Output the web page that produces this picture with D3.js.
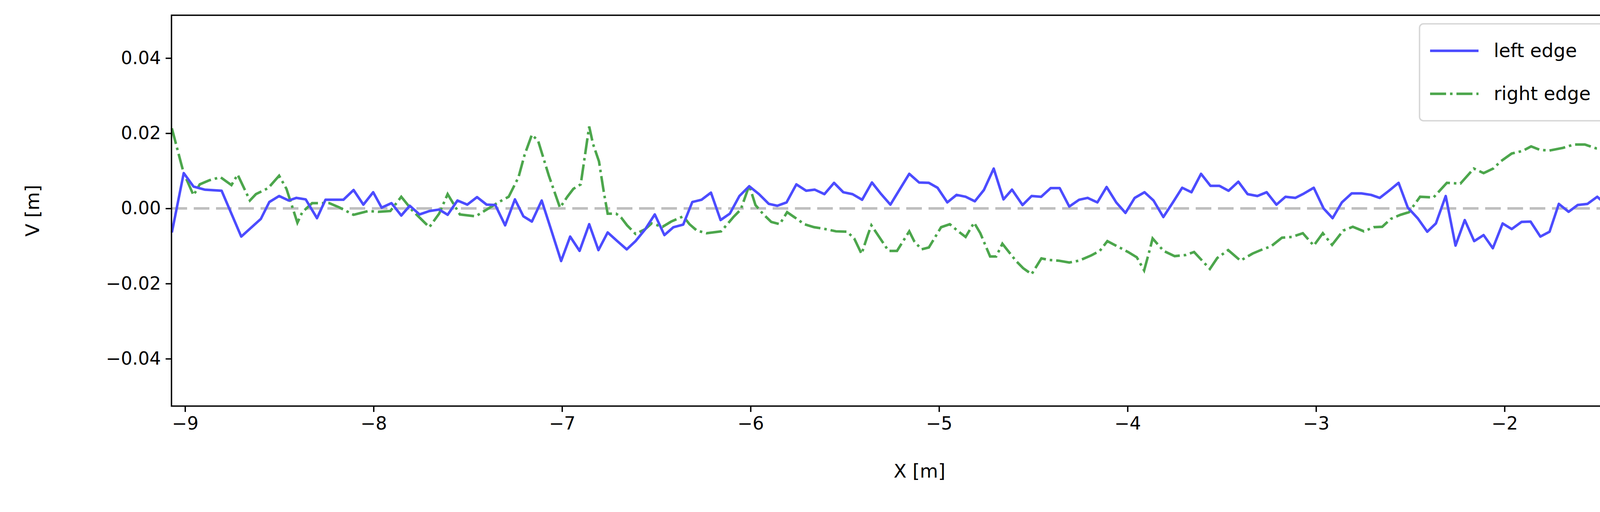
<!DOCTYPE html>
<html>
<head>
<meta charset="utf-8">
<script src="https://cdn.jsdelivr.net/npm/d3@7"></script>
<style>
  html, body { margin: 0; padding: 0; background: #fff; overflow: hidden; }
  svg { display: block; }
  text { font-family: "DejaVu Sans", sans-serif; }
</style>
</head>
<body>
<svg id="chart" width="4323" height="1310" viewBox="0 0 4323 1310"></svg>
<script>
// left edge profile (x in m, v in m)
var leftX = [-9.07,-9.007,-8.955,-8.896,-8.806,-8.702,-8.598,-8.553,-8.501,-8.45,-8.41,-8.36,-8.30,-8.255,-8.16,-8.106,-8.054,-8.002,-7.957,-7.905,-7.853,-7.808,-7.756,-7.704,-7.652,-7.607,-7.555,-7.503,-7.451,-7.40,-7.354,-7.302,-7.25,-7.205,-7.16,-7.108,-7.063,-7.005,-6.957,-6.907,-6.856,-6.807,-6.758,-6.707,-6.657,-6.61,-6.558,-6.508,-6.457,-6.409,-6.357,-6.309,-6.26,-6.21,-6.159,-6.11,-6.059,-6.007,-5.955,-5.903,-5.858,-5.809,-5.757,-5.705,-5.66,-5.608,-5.557,-5.508,-5.459,-5.408,-5.356,-5.307,-5.258,-5.207,-5.158,-5.106,-5.054,-5.008,-4.956,-4.907,-4.859,-4.81,-4.762,-4.71,-4.658,-4.613,-4.557,-4.509,-4.458,-4.408,-4.36,-4.309,-4.257,-4.212,-4.16,-4.111,-4.06,-4.011,-3.962,-3.91,-3.862,-3.81,-3.758,-3.71,-3.661,-3.61,-3.56,-3.512,-3.464,-3.412,-3.363,-3.311,-3.262,-3.21,-3.162,-3.11,-3.07,-3.012,-2.96,-2.912,-2.863,-2.811,-2.76,-2.708,-2.662,-2.613,-2.562,-2.513,-2.461,-2.41,-2.364,-2.312,-2.26,-2.211,-2.161,-2.111,-2.062,-2.01,-1.962,-1.91,-1.862,-1.81,-1.761,-1.712,-1.66,-1.612,-1.56,-1.508,-1.459,-1.411,-1.359,-1.307,-1.255,-1.206,-1.14];
var leftV = [-0.0064,0.0094,0.0058,0.005,0.0047,-0.0075,-0.0028,0.0017,0.0033,0.0021,0.0028,0.0024,-0.0026,0.0023,0.0023,0.0049,0.001,0.0043,0.0002,0.0014,-0.0019,0.0007,-0.0016,-0.0007,-0.0003,-0.0017,0.0021,0.001,0.003,0.001,0.0009,-0.0045,0.0024,-0.0021,-0.0035,0.0021,-0.0049,-0.014,-0.0075,-0.0113,-0.0042,-0.0111,-0.0064,-0.0087,-0.0109,-0.0087,-0.0055,-0.0016,-0.0071,-0.005,-0.0043,0.0017,0.0023,0.0042,-0.0031,-0.0014,0.0033,0.0059,0.0038,0.0012,0.0007,0.0016,0.0064,0.0047,0.005,0.0038,0.0068,0.0043,0.0038,0.0023,0.0069,0.0038,0.001,0.0052,0.0092,0.0069,0.0068,0.0055,0.0016,0.0036,0.0031,0.0019,0.0049,0.0106,0.0024,0.005,0.0009,0.0033,0.0031,0.0054,0.0054,0.0005,0.0023,0.0028,0.0016,0.0057,0.0016,-0.0012,0.0028,0.0043,0.0021,-0.0023,0.0017,0.0055,0.0043,0.0092,0.006,0.006,0.0047,0.0071,0.0038,0.0033,0.0043,0.001,0.0031,0.0028,0.0038,0.0055,0.0,-0.0026,0.0016,0.004,0.004,0.0036,0.0028,0.0047,0.0068,0.0002,-0.0026,-0.0062,-0.004,0.0033,-0.0099,-0.0031,-0.0087,-0.0071,-0.0106,-0.004,-0.0055,-0.0036,-0.0035,-0.0075,-0.0062,0.0012,-0.0009,0.0009,0.0012,0.0031,0.0009,-0.0002,-0.0017,0.0009,0.0035,0.0035,-0.009];

// right edge profile
var rightX = [-9.07,-9.02,-9.007,-8.955,-8.922,-8.87,-8.812,-8.754,-8.721,-8.656,-8.624,-8.559,-8.501,-8.462,-8.404,-8.378,-8.326,-8.235,-8.183,-8.106,-8.028,-7.976,-7.911,-7.853,-7.795,-7.704,-7.652,-7.607,-7.542,-7.458,-7.406,-7.335,-7.283,-7.231,-7.199,-7.16,-7.127,-7.07,-7.011,-6.972,-6.94,-6.901,-6.856,-6.836,-6.804,-6.778,-6.758,-6.713,-6.687,-6.655,-6.61,-6.558,-6.525,-6.467,-6.421,-6.357,-6.324,-6.285,-6.233,-6.156,-6.123,-6.091,-6.052,-6.007,-5.974,-5.935,-5.89,-5.845,-5.806,-5.754,-5.715,-5.663,-5.612,-5.547,-5.488,-5.45,-5.411,-5.378,-5.359,-5.268,-5.223,-5.158,-5.132,-5.093,-5.054,-4.989,-4.943,-4.898,-4.859,-4.814,-4.781,-4.729,-4.697,-4.664,-4.593,-4.554,-4.509,-4.457,-4.418,-4.366,-4.309,-4.257,-4.192,-4.147,-4.107,-3.997,-3.951,-3.912,-3.88,-3.867,-3.809,-3.75,-3.692,-3.647,-3.563,-3.524,-3.466,-3.401,-3.336,-3.284,-3.239,-3.181,-3.129,-3.07,-3.012,-2.964,-2.915,-2.856,-2.805,-2.746,-2.694,-2.649,-2.604,-2.552,-2.507,-2.448,-2.377,-2.306,-2.234,-2.163,-2.111,-2.06,-2.021,-1.962,-1.904,-1.859,-1.813,-1.762,-1.69,-1.632,-1.574,-1.515,-1.457,-1.405,-1.366,-1.327,-1.275,-1.236,-1.14];
var rightV = [0.0213,0.0118,0.0094,0.0035,0.0064,0.0075,0.0083,0.0062,0.009,0.0021,0.0038,0.0054,0.0087,0.0052,-0.0038,-0.001,0.0014,0.0014,0.0003,-0.0017,-0.0007,-0.0009,-0.0007,0.0031,-0.0005,-0.005,-0.0014,0.0038,-0.0016,-0.0021,-0.0005,0.0017,0.0031,0.0083,0.0142,0.0196,0.018,0.0087,0.0002,0.0031,0.0052,0.0064,0.0218,0.0172,0.0125,0.0042,-0.0014,-0.0014,-0.0024,-0.0045,-0.0068,-0.0055,-0.004,-0.0049,-0.0035,-0.0021,-0.0042,-0.0059,-0.0066,-0.0061,-0.0042,-0.0023,-0.0003,0.0061,0.0009,-0.0014,-0.0036,-0.0042,-0.001,-0.0028,-0.0042,-0.005,-0.0054,-0.0061,-0.0062,-0.008,-0.0121,-0.0071,-0.0045,-0.0113,-0.0113,-0.0061,-0.0087,-0.0109,-0.0104,-0.005,-0.0042,-0.0061,-0.0076,-0.0038,-0.0066,-0.0128,-0.0128,-0.0094,-0.0139,-0.0159,-0.0175,-0.0133,-0.0137,-0.0139,-0.0144,-0.0139,-0.0125,-0.0113,-0.0087,-0.0116,-0.013,-0.0165,-0.0106,-0.008,-0.0113,-0.0127,-0.0124,-0.0116,-0.0161,-0.0132,-0.0111,-0.0139,-0.012,-0.0109,-0.0101,-0.0078,-0.0076,-0.0066,-0.0099,-0.0066,-0.0097,-0.0059,-0.0049,-0.0061,-0.005,-0.0049,-0.0028,-0.0017,-0.001,0.0031,0.0029,0.0068,0.0066,0.0106,0.0094,0.0106,0.0125,0.0146,0.0153,0.0165,0.0156,0.0154,0.0161,0.017,0.017,0.016,0.016,0.0177,0.0184,0.0099,0.0168,0.0187,0.0251];

var xTicks = [-9, -8, -7, -6, -5, -4, -3, -2];
var yTicks = [-0.04, -0.02, 0, 0.02, 0.04];
var seriesNames = ["left edge", "right edge"];

var svg = d3.select("#chart");
var margin = {left: 439, right: 4269, top: 39, bottom: 1039};

var x = d3.scaleLinear().domain([-9.072, -1.135]).range([margin.left, margin.right]);
var y = d3.scaleLinear().domain([-0.0526, 0.0514]).range([margin.bottom, margin.top]);
var minus = function (s) { return s.replace("-", "\u2212"); };

// zero reference line
svg.append("line")
    .attr("x1", margin.left).attr("x2", margin.right)
    .attr("y1", y(0)).attr("y2", y(0))
    .attr("stroke", "#bfbfbf").attr("stroke-width", 6.5)
    .attr("stroke-dasharray", "40,17");

var line = d3.line()
    .x(function (d) { return x(d[0]); })
    .y(function (d) { return y(d[1]); });

svg.append("path")
    .datum(d3.zip(rightX, rightV))
    .attr("d", line)
    .attr("fill", "none").attr("stroke", "#4ca64c").attr("stroke-width", 6.5)
    .attr("stroke-dasharray", "41,10,6.5,10");

svg.append("path")
    .datum(d3.zip(leftX, leftV))
    .attr("d", line)
    .attr("fill", "none").attr("stroke", "#4c4cff").attr("stroke-width", 6.5)
    .attr("stroke-linejoin", "round");

// axes
var xAxis = svg.append("g").attr("transform", "translate(0," + margin.bottom + ")")
    .call(d3.axisBottom(x).tickValues(xTicks).tickSize(15).tickPadding(12)
        .tickFormat(function (d) { return minus(d3.format("d")(d)); }));
var yAxis = svg.append("g").attr("transform", "translate(" + margin.left + ",0)")
    .call(d3.axisLeft(y).tickValues(yTicks).tickSize(15).tickPadding(12)
        .tickFormat(function (d) { return minus(d3.format(".2f")(d)); }));
[xAxis, yAxis].forEach(function (g) {
    g.select(".domain").remove();
    g.selectAll(".tick line").attr("stroke", "#000").attr("stroke-width", 3.5);
    g.selectAll(".tick text").attr("font-size", 46).attr("fill", "#000");
});

// frame
svg.append("rect")
    .attr("x", margin.left).attr("y", margin.top)
    .attr("width", margin.right - margin.left).attr("height", margin.bottom - margin.top)
    .attr("fill", "none").attr("stroke", "#000").attr("stroke-width", 3.5);

svg.append("text").attr("x", (margin.left + margin.right) / 2).attr("y", 1222)
    .attr("text-anchor", "middle").attr("font-size", 48).text("X [m]");
svg.append("text").attr("transform", "translate(100," + (margin.top + margin.bottom) / 2 + ") rotate(-90)")
    .attr("text-anchor", "middle").attr("font-size", 48).text("V [m]");

// legend
var lg = svg.append("g");
lg.append("rect").attr("x", 3634).attr("y", 61).attr("width", 617).attr("height", 248)
    .attr("rx", 10).attr("fill", "#fff").attr("fill-opacity", 0.8)
    .attr("stroke", "#d6d6d6").attr("stroke-width", 3.5);
var legendStyles = [
    {color: "#4c4cff", dash: null},
    {color: "#4ca64c", dash: "41,10,6.5,10"}
];
seriesNames.forEach(function (name, i) {
    var yy = 130 + i * 110;
    lg.append("line").attr("x1", 3661).attr("x2", 3785).attr("y1", yy).attr("y2", yy)
        .attr("stroke", legendStyles[i].color).attr("stroke-width", 6.5)
        .attr("stroke-dasharray", legendStyles[i].dash);
    lg.append("text").attr("x", 3824).attr("y", yy + 16).attr("font-size", 48).text(name);
});
</script>
</body>
</html>
